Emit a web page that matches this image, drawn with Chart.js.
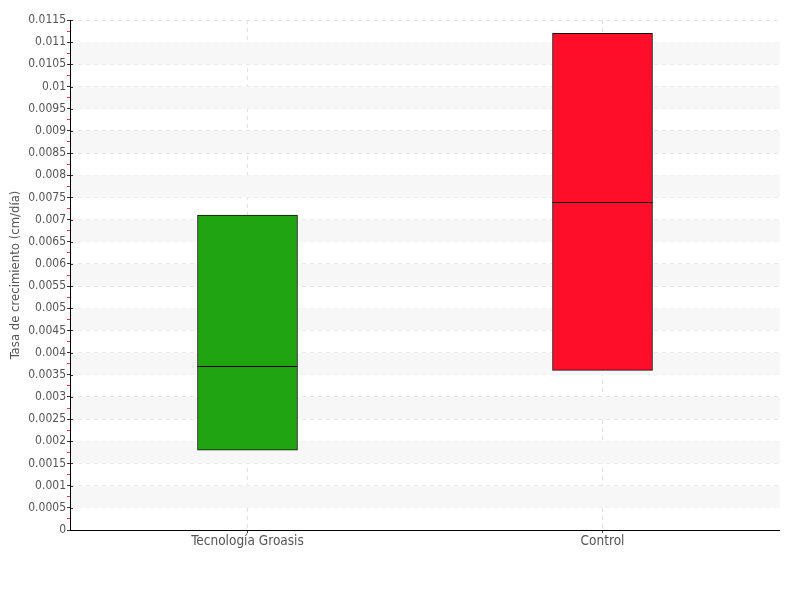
<!DOCTYPE html>
<html>
<head>
<meta charset="utf-8">
<script src="https://cdn.jsdelivr.net/npm/chart.js@4/dist/chart.umd.min.js"></script>
<style>
html,body{margin:0;padding:0;background:#fff;}
#wrap{width:800px;height:600px;}
</style>
</head>
<body>
<div id="wrap"><canvas id="c" width="800" height="600"></canvas></div>
<script>
const categories = ['Tecnología Groasis', 'Control'];
const lowValues = [0.0018, 0.0036];
const highValues = [0.0071, 0.0112];
const medianValues = [0.0037, 0.0074];
const barColors = ['#21a411', '#ff0e2a'];
const yTitle = 'Tasa de crecimiento (cm/día)';
const yMax = 0.0115;
const yStep = 0.00025;

const FONT = "'DejaVu Sans Condensed', 'DejaVu Sans', sans-serif";
const isMajor = v => Math.round(v / yStep) % 2 === 0;

const bandsPlugin = {
  id: 'bands',
  beforeDatasetsDraw(chart) {
    const {ctx, chartArea, scales: {y}} = chart;
    ctx.save();
    ctx.fillStyle = '#f7f7f7';
    for (let v = 0.0005; v < yMax; v += 0.001) {
      const top = y.getPixelForValue(Math.min(v + 0.0005, yMax));
      const bot = y.getPixelForValue(v);
      ctx.fillRect(chartArea.left, top, chartArea.right - chartArea.left, bot - top);
    }
    ctx.restore();
  }
};

const axesPlugin = {
  id: 'axesLines',
  afterDraw(chart) {
    const {ctx, chartArea, scales: {y}} = chart;
    ctx.save();
    ctx.lineWidth = 1;
    y.ticks.forEach(t => {
      if (!isMajor(t.value)) return;
      const py = Math.round(y.getPixelForValue(t.value)) + 0.5;
      ctx.strokeStyle = '#333';
      ctx.beginPath();
      ctx.moveTo(chartArea.left, py);
      ctx.lineTo(chartArea.left + 3, py);
      ctx.stroke();
    });
    ctx.strokeStyle = '#000';
    const lx = Math.round(chartArea.left) + 0.5;
    ctx.beginPath();
    ctx.moveTo(lx, chartArea.top);
    ctx.lineTo(lx, chartArea.bottom);
    ctx.stroke();
    const by = Math.round(chartArea.bottom) + 0.5;
    ctx.beginPath();
    ctx.moveTo(chartArea.left, by);
    ctx.lineTo(chartArea.right, by);
    ctx.stroke();
    ctx.restore();
  }
};

const medianPlugin = {
  id: 'medians',
  afterDatasetsDraw(chart) {
    const {ctx, scales: {y}} = chart;
    const meta = chart.getDatasetMeta(0);
    ctx.save();
    ctx.strokeStyle = '#000';
    ctx.lineWidth = 1;
    meta.data.forEach((bar, i) => {
      const py = Math.round(y.getPixelForValue(medianValues[i])) + 0.5;
      ctx.beginPath();
      ctx.moveTo(bar.x - bar.width / 2, py);
      ctx.lineTo(bar.x + bar.width / 2, py);
      ctx.stroke();
    });
    ctx.restore();
  }
};

new Chart(document.getElementById('c'), {
  type: 'bar',
  data: {
    labels: categories,
    datasets: [{
      data: lowValues.map((lo, i) => [lo, highValues[i]]),
      backgroundColor: barColors,
      borderColor: '#111',
      borderWidth: 1,
      borderSkipped: false,
      barThickness: 100
    }]
  },
  options: {
    responsive: false,
    animation: false,
    layout: {padding: {left: 8, right: 20, top: 20, bottom: 0}},
    plugins: {legend: {display: false}, tooltip: {enabled: false}},
    scales: {
      x: {
        grid: {offset: false, color: '#e3e3e3', drawOnChartArea: true, tickLength: 3, tickColor: '#555', tickBorderDash: []},
        border: {display: false, dash: [4, 4]},
        ticks: {color: '#555', font: {family: FONT, size: 13.5}, padding: 0},
        afterFit(s) { s.height = 70; }
      },
      y: {
        min: 0, max: yMax,
        grid: {
          color: ctx => isMajor(ctx.tick.value) ? '#e3e3e3' : 'rgba(0,0,0,0)',
          tickColor: ctx => isMajor(ctx.tick.value) ? '#333' : '#e8383d',
          tickLength: 3,
          tickBorderDash: []
        },
        border: {display: false, dash: [4, 4]},
        ticks: {
          stepSize: yStep,
          autoSkip: false,
          color: '#555',
          font: {family: FONT, size: 12},
          padding: 1,
          callback: v => isMajor(v) ? String(parseFloat(v.toFixed(5))) : ''
        },
        title: {display: true, text: yTitle, color: '#555', font: {family: FONT, size: 13}, padding: 0},
        afterFit(s) { s.width = 62; }
      }
    }
  },
  plugins: [bandsPlugin, medianPlugin, axesPlugin]
});
</script>
</body>
</html>
